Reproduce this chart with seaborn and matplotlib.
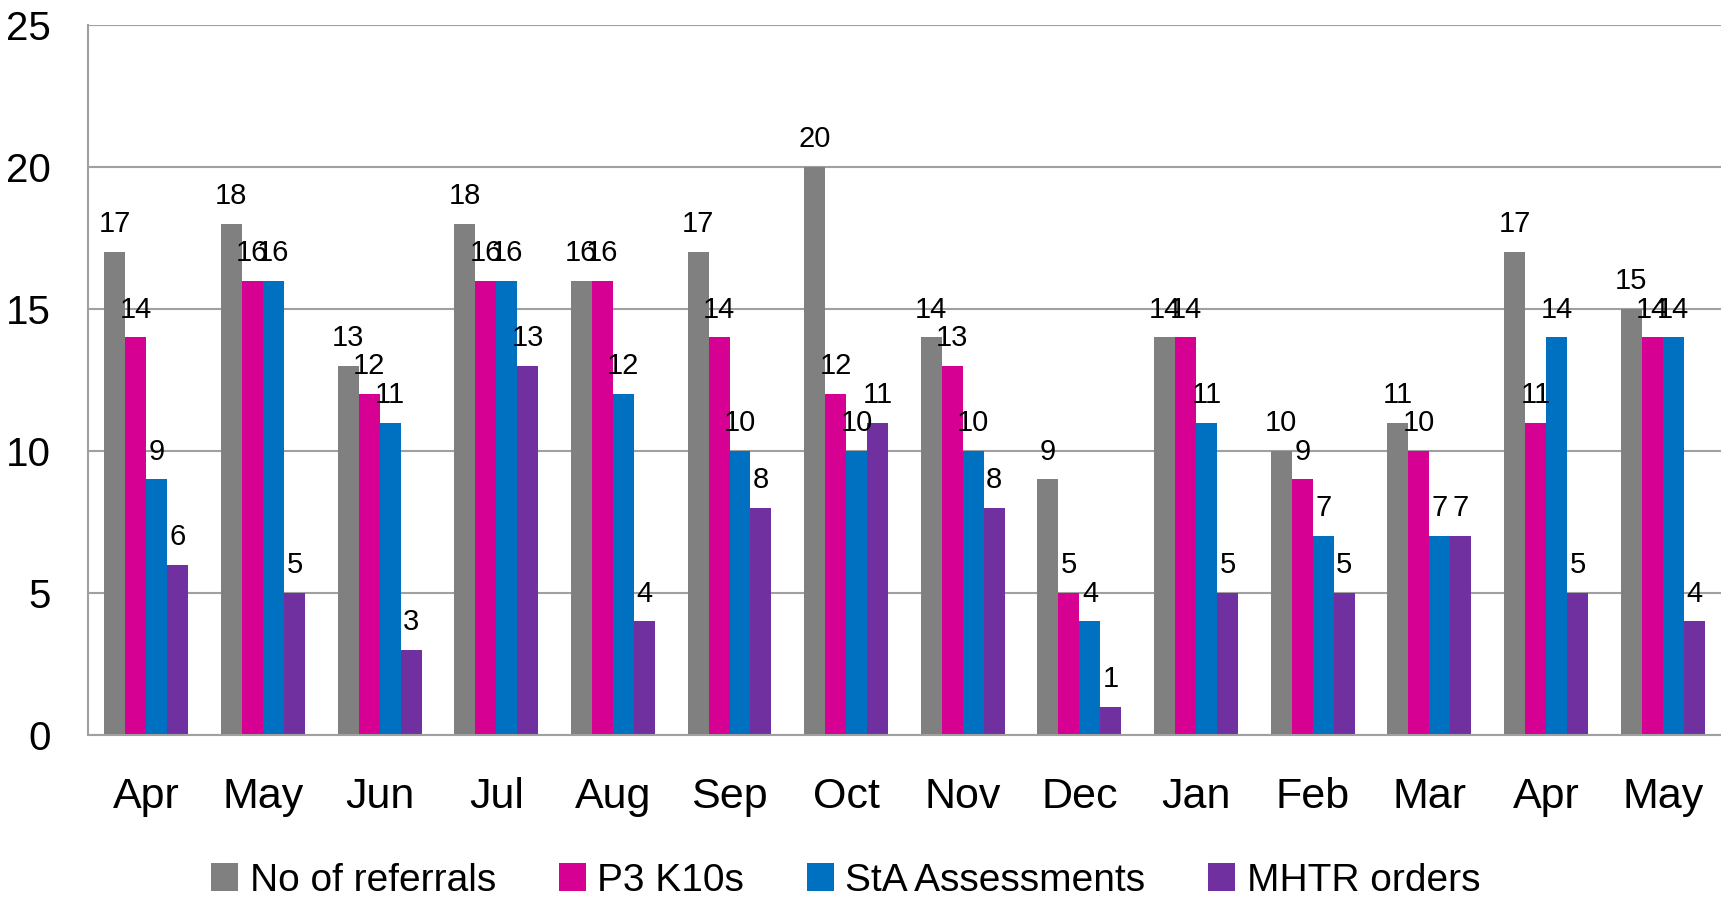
import pandas as pd
import numpy as np
import matplotlib
matplotlib.use("Agg")
import matplotlib.pyplot as plt
import seaborn as sns

# Data
months = ["Apr", "May", "Jun", "Jul", "Aug", "Sep", "Oct", "Nov", "Dec",
          "Jan", "Feb", "Mar", "Apr", "May"]
referrals = [17, 18, 13, 18, 16, 17, 20, 14, 9, 14, 10, 11, 17, 15]
p3_k10s = [14, 16, 12, 16, 16, 14, 12, 13, 5, 14, 9, 10, 11, 14]
sta_assessments = [9, 16, 11, 16, 12, 10, 10, 10, 4, 11, 7, 7, 14, 14]
mhtr_orders = [6, 5, 3, 13, 4, 8, 11, 8, 1, 5, 5, 7, 5, 4]

series = ["No of referrals", "P3 K10s", "StA Assessments", "MHTR orders"]
colors = ["#808080", "#D60093", "#0070C0", "#7030A0"]

# Long format table; periods need unique ids because months repeat
periods = [f"{m}_{i}" for i, m in enumerate(months)]
df = pd.DataFrame({
    "period": periods * 4,
    "series": np.repeat(series, len(months)),
    "value": referrals + p3_k10s + sta_assessments + mhtr_orders,
})

sns.set_style("white")
plt.rcParams["font.family"] = ["Liberation Sans", "DejaVu Sans"]
plt.rcParams["text.color"] = "black"
plt.rcParams["xtick.labelcolor"] = "black"
plt.rcParams["ytick.labelcolor"] = "black"

fig = plt.figure(figsize=(17.21, 9), dpi=100)
ax = fig.add_axes([0.0511, 0.1833, 0.9489, 0.7889])

sns.barplot(data=df, x="period", y="value", hue="series", order=periods,
            hue_order=series, palette=colors, width=0.72, gap=0,
            linewidth=0, saturation=1, ax=ax)

for cont in ax.containers:
    ax.bar_label(cont, padding=10, fontsize=21, color="black")

ax.set_ylim(0, 25)
ax.set_xlim(-0.5, len(months) - 0.5)
ax.set_yticks([0, 5, 10, 15, 20, 25])
ax.yaxis.grid(True, color="#A0A0A0", linewidth=1.5)
ax.set_axisbelow(True)

ax.set_xticks(range(len(months)))
ax.set_xticklabels(months, fontsize=31)
ax.set_xticks(np.arange(-0.5, len(months)), minor=True)
ax.tick_params(axis="x", which="major", length=0, pad=30)
ax.tick_params(axis="x", which="minor", length=11, width=1.5, color="#A0A0A0")
ax.tick_params(axis="y", length=9, width=1.5, color="#A0A0A0", labelsize=29, pad=18)
ax.set_xlabel("")
ax.set_ylabel("")

for s in ["top", "right"]:
    ax.spines[s].set_visible(False)
for s in ["left", "bottom"]:
    ax.spines[s].set_color("#A0A0A0")
    ax.spines[s].set_linewidth(1.5)

ax.legend(loc="center", bbox_to_anchor=(0.464, -0.205), ncol=4, frameon=False,
          fontsize=28, handlelength=0.7, handleheight=0.7, handletextpad=0.3,
          columnspacing=1.6)

fig.savefig("out.png", dpi=100)
